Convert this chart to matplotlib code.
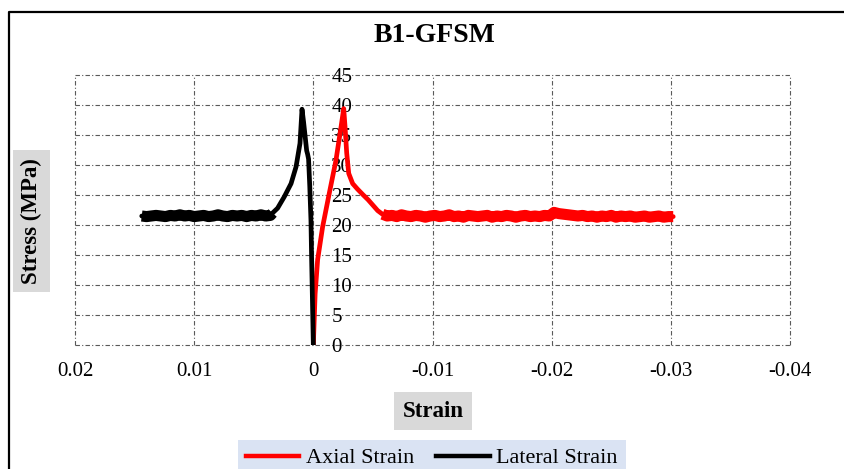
import matplotlib
matplotlib.use("Agg")
import matplotlib.pyplot as plt
from matplotlib.lines import Line2D

plt.rcParams['font.family'] = ['Liberation Serif', 'DejaVu Serif']
plt.rcParams['axes.unicode_minus'] = False

# ---------------- data ----------------
title = "B1-GFSM"
x_label = "Strain"
y_label = "Stress (MPa)"
series_names = ["Axial Strain", "Lateral Strain"]

x_ticks = [0.02, 0.01, 0.0, -0.01, -0.02, -0.03, -0.04]
x_tick_labels = ["0.02", "0.01", "0", "-0.01", "-0.02", "-0.03", "-0.04"]
y_ticks = [0, 5, 10, 15, 20, 25, 30, 35, 40, 45]
y_tick_labels = ["0", "5", "10", "15", "20", "25", "30", "35", "40", "45"]

# Axial strain (red): rise, peak, softening, plateau
axial_strain = [0.0, -0.00015, -0.00036, -0.00078, -0.00134, -0.0019, -0.00233, -0.00255,
                -0.00266, -0.0028, -0.00297, -0.0033, -0.0037, -0.00414, -0.0046, -0.005,
                -0.0054, -0.0058,
                -0.0062, -0.0066, -0.0070, -0.0074, -0.0078, -0.0082, -0.0086, -0.0090,
                -0.0094, -0.0098, -0.0102, -0.0106, -0.0110, -0.0114, -0.0118, -0.0122,
                -0.0126, -0.0130, -0.0134, -0.0138, -0.0142, -0.0146, -0.0150, -0.0154,
                -0.0158, -0.0162, -0.0166, -0.0170, -0.0174, -0.0178, -0.0182, -0.0186,
                -0.0190, -0.0194, -0.0198, -0.0202, -0.0206, -0.0210, -0.0214, -0.0218,
                -0.0222, -0.0226, -0.0230, -0.0234, -0.0238, -0.0242, -0.0246, -0.0250,
                -0.0254, -0.0258, -0.0262, -0.0266, -0.0270, -0.0274, -0.0278, -0.0282,
                -0.0286, -0.0290, -0.0294, -0.0298, -0.0302]
axial_stress = [0.0, 8.5, 14.2, 19.7, 25.3, 30.8, 36.4, 39.4,
                36.4, 32.0, 28.6, 26.9, 26.0, 25.1, 24.2, 23.3,
                22.4, 21.8,
                21.5, 21.6, 21.4, 21.7, 21.5, 21.4, 21.6, 21.5,
                21.3, 21.5, 21.6, 21.4, 21.5, 21.7, 21.4, 21.5,
                21.3, 21.6, 21.5, 21.4, 21.5, 21.6, 21.3, 21.5,
                21.4, 21.6, 21.5, 21.3, 21.5, 21.6, 21.4, 21.5,
                21.4, 21.6, 21.5, 22.1, 21.9, 21.8, 21.7, 21.6,
                21.5, 21.6, 21.4, 21.5, 21.3, 21.5, 21.4, 21.6,
                21.3, 21.5, 21.4, 21.5, 21.3, 21.4, 21.5, 21.3,
                21.4, 21.5, 21.3, 21.4, 21.4]
axial_plateau_from = 17

# Lateral strain (black): rise, shoulder, peak, softening, plateau
lateral_strain = [0.0, 0.00008, 0.00015, 0.0002, 0.0003, 0.0004, 0.00048, 0.00056,
                  0.0007, 0.00082, 0.00095, 0.00112, 0.00145, 0.00187, 0.00244, 0.0030,
                  0.00342,
                  0.0036, 0.0040, 0.0044, 0.0048, 0.0052, 0.0056, 0.0060, 0.0064,
                  0.0068, 0.0072, 0.0076, 0.0080, 0.0084, 0.0088, 0.0092, 0.0096,
                  0.0100, 0.0104, 0.0108, 0.0112, 0.0116, 0.0120, 0.0124, 0.0128,
                  0.0132, 0.0136, 0.0140, 0.0144]
lateral_stress = [0.0, 8.0, 15.0, 20.8, 26.5, 31.0, 31.8, 32.4,
                  35.0, 37.2, 39.3, 33.6, 29.7, 26.9, 24.7, 22.8,
                  22.0,
                  21.6, 21.5, 21.7, 21.5, 21.6, 21.4, 21.6, 21.5,
                  21.6, 21.4, 21.5, 21.7, 21.5, 21.4, 21.6, 21.5,
                  21.4, 21.6, 21.5, 21.7, 21.5, 21.6, 21.4, 21.5,
                  21.6, 21.5, 21.4, 21.5]
lateral_plateau_from = 16

# ---------------- figure ----------------
W, H = 844, 469
fig = plt.figure(figsize=(W / 100, H / 100), dpi=100)
ax = fig.add_axes([75 / W, 1 - 345 / H, 715 / W, 270 / H])

red = '#FF0000'
ax.plot(axial_strain, axial_stress, color=red, lw=3.4,
        solid_joinstyle='round', solid_capstyle='round', zorder=3)
# noisy plateau drawn as a thicker band
ax.plot(axial_strain[axial_plateau_from:], axial_stress[axial_plateau_from:],
        color=red, lw=8.0, solid_joinstyle='round', solid_capstyle='butt', zorder=3)
ax.plot(lateral_strain, lateral_stress, color='black', lw=3.4,
        solid_joinstyle='round', solid_capstyle='round', zorder=4)
ax.plot(lateral_strain[lateral_plateau_from:], lateral_stress[lateral_plateau_from:],
        color='black', lw=8.0, solid_joinstyle='round', solid_capstyle='butt', zorder=4)

ax.set_xlim(0.02, -0.04)
ax.set_ylim(0, 45)
ax.set_xticks(x_ticks)
ax.set_xticklabels(x_tick_labels)
ax.set_yticks(y_ticks)
ax.set_yticklabels(y_tick_labels)

for s in ax.spines.values():
    s.set_color('none')
ax.yaxis.tick_right()
ax.spines['right'].set_position(('data', 0))
ax.tick_params(axis='y', length=0, pad=13, labelsize=15)
ax.tick_params(axis='x', length=0, pad=12, labelsize=15)
for lab in ax.get_yticklabels():
    lab.set_horizontalalignment('left')

ax.grid(True, color='#595959', lw=0.8, linestyle=(0, (4, 2, 1, 2)))
for gl in ax.get_xgridlines() + ax.get_ygridlines():
    gl.set_clip_on(False)
ax.set_axisbelow(True)

# title
fig.text(434 / W, 1 - 35 / H, title, ha='center', va='center',
         fontsize=20, fontweight='bold')

# axis labels with grey boxes
fig.text(433 / W, 1 - 411 / H, x_label, ha='center', va='center',
         fontsize=16.5, fontweight='bold',
         bbox=dict(facecolor='#D9D9D9', edgecolor='none', pad=6))
fig.text(31.5 / W, 1 - 221 / H, y_label, ha='center', va='center', rotation=90,
         fontsize=16.5, fontweight='bold',
         bbox=dict(facecolor='#D9D9D9', edgecolor='none', pad=6))

# legend
handles = [Line2D([], [], color=red, lw=3.2),
           Line2D([], [], color='black', lw=3.2)]
leg = fig.legend(handles, series_names, loc='upper left',
                 bbox_to_anchor=(238 / W, 1 - 440 / H), ncol=2,
                 fontsize=16, frameon=True, fancybox=False,
                 facecolor='#DAE3F3', edgecolor='none', framealpha=1,
                 handlelength=2.4, handletextpad=0.3, columnspacing=1.0,
                 borderpad=0.35, borderaxespad=0)

# outer chart border (cropped)
fy = 1 - 12.5 / H
fx = 9 / W
fig.add_artist(Line2D([fx, fx, 1.0], [0.0, fy, fy], transform=fig.transFigure,
                      color='black', lw=1.6))

fig.savefig("out.png", dpi=100)
